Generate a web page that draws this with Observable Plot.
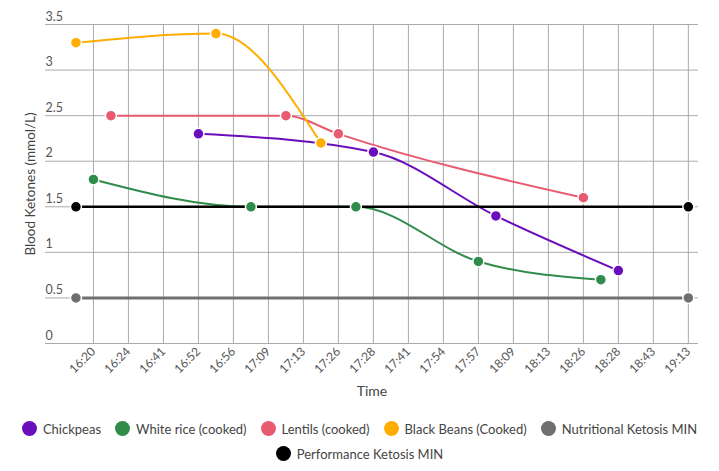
<!DOCTYPE html>
<html>
<head>
<meta charset="utf-8">
<script src="https://cdn.jsdelivr.net/npm/d3@7"></script>
<script src="https://cdn.jsdelivr.net/npm/@observablehq/plot@0.6"></script>
<style>
  body { margin: 0; background: #fff; font-family: Lato, "Open Sans", sans-serif; }
  #chart svg { display: block; }
  #legend { width: 719px; display: flex; flex-wrap: wrap; justify-content: center; padding-top: 11px; box-sizing: border-box; padding-left: 8px; padding-right: 8px; }
  .item { display: flex; align-items: center; height: 25px; margin: 0 7px; font-size: 13px; color: #444; }
  .sw { width: 15px; height: 15px; border-radius: 50%; margin-right: 6px; }
</style>
</head>
<body>
<div id="chart"></div>
<div id="legend"></div>
<script>
// x tick labels (category slots 0..17)
const timeLabels = ["16:20","16:24","16:41","16:52","16:56","17:09","17:13","17:26","17:28","17:41","17:54","17:57","18:09","18:13","18:26","18:28","18:43","19:13"];
const yTicks = [0, 0.5, 1, 1.5, 2, 2.5, 3, 3.5];

// series: x in slot units, y in mmol/L
const seriesNames = ["Chickpeas","White rice (cooked)","Lentils (cooked)","Black Beans (Cooked)","Nutritional Ketosis MIN","Performance Ketosis MIN"];
const seriesColors = ["#6a0dba","#2f8c4a","#e85a70","#ffad00","#6f6f6f","#000000"];
const seriesWidths = [2, 2, 2, 2, 3, 2.5];

const chickpeasX = [3, 8, 11.5, 15];
const chickpeasY = [2.3, 2.1, 1.4, 0.8];
const riceX = [0, 4.5, 7.5, 11, 14.5];
const riceY = [1.8, 1.5, 1.5, 0.9, 0.7];
const lentilsX = [0.5, 5.5, 7, 14];
const lentilsY = [2.5, 2.5, 2.3, 1.6];
const beansX = [-0.5, 3.5, 6.5];
const beansY = [3.3, 3.4, 2.2];
const nutritionalX = [-0.5, 17];
const nutritionalY = [0.5, 0.5];
const performanceX = [-0.5, 17];
const performanceY = [1.5, 1.5];

const seriesX = [chickpeasX, riceX, lentilsX, beansX, nutritionalX, performanceX];
const seriesY = [chickpeasY, riceY, lentilsY, beansY, nutritionalY, performanceY];

const data = [];
seriesNames.forEach((name, i) => {
  seriesX[i].forEach((x, j) => data.push({series: name, idx: i, x, y: seriesY[i][j]}));
});

const lineMarks = seriesNames.map((name, i) =>
  Plot.line(data.filter(d => d.idx === i), {
    x: "x", y: "y", stroke: seriesColors[i], strokeWidth: seriesWidths[i],
    curve: "monotone-x"
  })
);
const dotMarks = seriesNames.map((name, i) =>
  Plot.dot(data.filter(d => d.idx === i), {
    x: "x", y: "y", r: 5.5, fill: seriesColors[i], stroke: "#fff", strokeWidth: 1.5
  })
);

const chart = Plot.plot({
  width: 719,
  height: 405,
  marginLeft: 45,
  marginRight: 21,
  marginTop: 24,
  marginBottom: 62,
  style: { fontFamily: "Lato, 'Open Sans', sans-serif", fontSize: "12px", color: "#555", background: "#fff" },
  x: { type: "linear", domain: [-1.37, 17.29] },
  y: { domain: [0, 3.5] },
  marks: [
    Plot.gridX(d3.range(timeLabels.length), { stroke: "#aaa", strokeOpacity: 1, strokeWidth: 1 }),
    Plot.gridY(yTicks, { stroke: "#aaa", strokeOpacity: 1, strokeWidth: 1 }),
    Plot.axisX(d3.range(timeLabels.length), {
      tickFormat: i => timeLabels[i], tickRotate: -45, tickSize: 0, tickPadding: 6,
      label: null, fill: "#555", fontSize: 12
    }),
    Plot.axisY(yTicks, {
      tickSize: 0, tickPadding: 0, textAnchor: "start", dy: -8, label: null,
      tickFormat: d => String(d), fill: "#555", fontSize: 12.5
    }),
    Plot.text(["Blood Ketones (mmol/L)"], { frameAnchor: "left", textAnchor: "middle", rotate: -90, dx: -15, fontSize: 13.5, fill: "#444" }),
    Plot.text(["Time"], { frameAnchor: "bottom", dy: 52, fontSize: 14, fill: "#444" }),
    ...lineMarks,
    ...dotMarks
  ]
});
document.getElementById("chart").appendChild(chart);

const legend = document.getElementById("legend");
seriesNames.forEach((name, i) => {
  const it = document.createElement("div");
  it.className = "item";
  const sw = document.createElement("span");
  sw.className = "sw";
  sw.style.background = seriesColors[i];
  it.appendChild(sw);
  const t = document.createElement("span");
  t.textContent = name;
  it.appendChild(t);
  legend.appendChild(it);
});
</script>
</body>
</html>
